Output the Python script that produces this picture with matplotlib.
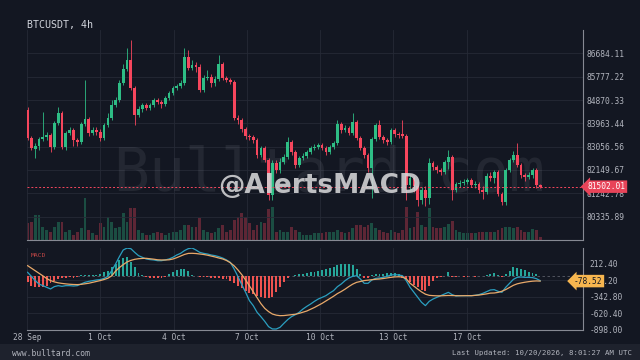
import matplotlib
matplotlib.use("Agg")
import matplotlib.pyplot as plt
from matplotlib.patches import Rectangle
import matplotlib.transforms as mtransforms
import numpy as np

plt.rcParams['font.family'] = ['DejaVu Sans Mono']

title = "BTCUSDT, 4h"
date_labels = ["28 Sep", "1 Oct", "4 Oct", "7 Oct", "10 Oct", "13 Oct", "17 Oct"]
price_tick_labels = ["80335.89", "81242.78", "82149.67", "83056.56",
                     "83963.44", "84870.33", "85777.22", "86684.11"]
macd_tick_labels = ["212.40", "-65.20", "-342.80", "-620.40", "-898.00"]
last_price = 81502.01
last_signal = -78.52

open_ = [84481, 83393, 82966, 83082, 83354, 83432, 83510, 83043, 83976, 84365,
         83043, 83587, 83704, 83315, 83238, 83937, 84132, 83587, 83704, 83626,
         83393, 83898, 84171, 84676, 84870, 85531, 86075, 86425, 85337, 84287,
         84520, 84676, 84559, 84676, 84870, 84792, 84715, 84948, 85142, 85337,
         85414, 85531, 86541, 86114, 86231, 86153, 85259, 85725, 85764, 85531,
         85686, 86269, 85725, 85647, 85570, 84171, 84093, 83743, 83471, 83432,
         83315, 82732, 83004, 82538, 81178, 82421, 82149, 82460, 82655, 83238,
         82849, 82344, 82616, 82694, 82849, 83004, 83043, 83121, 83004, 82849,
         83043, 83199, 83937, 83704, 83782, 83587, 84015, 83393, 83004, 82732,
         82227, 83354, 83898, 83432, 83315, 83238, 83704, 83549, 83549, 83471,
         81566, 81838, 81527, 80983, 81372, 81061, 82421, 82266, 82149, 82072,
         82460, 82655, 81372, 81605, 81644, 81683, 81761, 81566, 81605, 81372,
         81294, 81916, 81838, 82072, 81217, 80906, 82149, 82538, 82732, 82344,
         81955, 81877, 81955, 82149, 81566]
close = [83393, 83004, 83082, 83354, 83432, 83510, 83043, 83976, 84365, 83043,
         83587, 83704, 83315, 83238, 83937, 84132, 83587, 83704, 83626, 83393,
         83898, 84171, 84676, 84870, 85531, 86075, 86425, 85337, 84287, 84520,
         84676, 84559, 84676, 84870, 84792, 84715, 84948, 85142, 85337, 85414,
         85531, 86541, 86114, 86231, 86153, 85259, 85725, 85764, 85531, 85686,
         86269, 85725, 85647, 85570, 84171, 84093, 83743, 83471, 83432, 83315,
         82732, 83004, 82538, 81178, 82421, 82149, 82460, 82655, 83238, 82849,
         82344, 82616, 82694, 82849, 83004, 83043, 83121, 83004, 82849, 83043,
         83199, 83937, 83704, 83782, 83587, 84015, 83393, 83004, 82732, 82227,
         83354, 83898, 83432, 83315, 83238, 83704, 83549, 83510, 83471, 81566,
         81838, 81527, 80983, 81372, 81061, 82421, 82266, 82149, 82072, 82460,
         82655, 81372, 81605, 81644, 81683, 81761, 81566, 81605, 81372, 81294,
         81916, 81838, 82072, 81217, 80906, 82149, 82538, 82732, 82344, 81955,
         81877, 81955, 82149, 81566, 81502.01]
high = [84598, 83471, 83199, 83432, 84404, 83626, 83587, 84054, 84598, 84443,
        83665, 83821, 83782, 83393, 84015, 85647, 84209, 83821, 83821, 83743,
        83976, 84365, 84870, 84987, 85647, 86269, 86891, 87202, 85414, 84637,
        84754, 84754, 84754, 84948, 84948, 84870, 85026, 85220, 85414, 85492,
        85647, 86891, 86814, 86425, 86347, 86269, 85842, 86036, 85881, 85803,
        86619, 86347, 85803, 85725, 85647, 84287, 84171, 83821, 83549, 83510,
        83393, 83082, 83082, 82616, 82538, 82538, 82616, 82771, 83432, 83315,
        82927, 82694, 82810, 82927, 83082, 83160, 83199, 83199, 83082, 83121,
        83277, 84093, 84015, 83898, 83860, 84365, 84093, 83471, 83082, 82810,
        83432, 83976, 84093, 83510, 83393, 83782, 83782, 83626, 84093, 83549,
        81955, 81916, 81605, 81489, 81527, 82616, 82499, 82344, 82227, 82538,
        82927, 82732, 81683, 81761, 81800, 81838, 81838, 81722, 81683, 81527,
        82033, 82072, 82149, 82149, 81294, 82227, 82616, 82888, 83199, 82421,
        82033, 82072, 82227, 82227, 81605]
low = [83315, 82927, 82616, 82927, 83277, 83315, 82849, 82966, 83898, 82966,
       82927, 83510, 83082, 83082, 83160, 83860, 83471, 83510, 83510, 83277,
       83315, 83821, 84093, 84598, 84792, 85453, 85997, 85259, 83898, 84209,
       84404, 84481, 84481, 84598, 84715, 84559, 84637, 84870, 85064, 85259,
       85337, 85453, 86036, 86036, 85958, 85181, 85181, 85647, 85375, 85414,
       85609, 85647, 85570, 85492, 84093, 83937, 83626, 83354, 83315, 83199,
       82616, 82655, 82460, 80983, 80983, 82033, 82033, 82383, 82577, 82732,
       82227, 82266, 82538, 82616, 82771, 82927, 82966, 82927, 82732, 82771,
       82966, 83121, 83587, 83626, 83510, 83510, 83315, 82927, 82616, 82072,
       81061, 83277, 83354, 83199, 83121, 83160, 83432, 83393, 83393, 80983,
       81372, 81294, 80750, 80828, 80750, 80828, 82149, 82033, 81955, 81994,
       82188, 80983, 81294, 81489, 81566, 81605, 81489, 81450, 81255, 81022,
       81217, 81722, 81644, 81139, 80789, 80789, 82072, 82460, 82266, 81838,
       81722, 81800, 81838, 81450, 81450]
volume = [850, 900, 1250, 1250, 650, 500, 400, 650, 900, 900,
          400, 500, 250, 400, 600, 2100, 500, 350, 250, 850,
          650, 1150, 900, 600, 650, 1350, 900, 1600, 1600, 500,
          350, 250, 250, 350, 400, 350, 250, 350, 400, 400,
          500, 750, 750, 650, 650, 1100, 500, 400, 350, 400,
          600, 750, 400, 500, 1000, 1150, 1350, 1150, 850, 500,
          750, 900, 850, 1550, 1650, 400, 500, 400, 400, 650,
          500, 400, 250, 250, 250, 350, 350, 350, 400, 400,
          400, 500, 400, 350, 400, 600, 750, 750, 650, 750,
          850, 600, 500, 400, 350, 500, 400, 350, 500, 1650,
          600, 650, 1400, 750, 650, 1600, 650, 600, 600, 650,
          800, 950, 500, 400, 350, 350, 350, 350, 400, 400,
          400, 400, 400, 500, 600, 650, 650, 600, 650, 500,
          400, 400, 550, 500, 150]
macd = [70, 2, -71, -128, -156, -184, -212, -172, -156, -167,
        -156, -156, -162, -156, -128, -99, -83, -71, -60, -54,
        -32, 2, 98, 211, 335, 448, 480, 470, 408, 352,
        324, 296, 285, 279, 267, 267, 279, 296, 324, 363,
        391, 437, 470, 482, 448, 408, 391, 380, 363, 352,
        335, 312, 279, 239, 126, -3, -139, -269, -410, -494,
        -607, -681, -760, -850, -889, -890, -861, -794, -731, -681,
        -647, -607, -551, -506, -466, -421, -382, -353, -325, -280,
        -240, -173, -128, -71, -26, 2, 13, -43, -116, -116,
        -60, -32, -26, -15, 2, 25, 30, 25, 13, -71,
        -184, -269, -353, -438, -494, -421, -382, -353, -325, -297,
        -269, -308, -331, -325, -325, -325, -325, -319, -308, -286,
        -257, -229, -224, -252, -269, -184, -116, -49, -15, -9,
        -15, -15, -20, -37, -71]
signal = [183, 140, 95, 55, 10, -35, -70, -92, -108, -118,
          -126, -132, -136, -138, -134, -125, -115, -100, -85, -70,
          -52, -30, 10, 90, 150, 200, 245, 272, 290, 300,
          305, 307, 300, 292, 282, 279, 279, 282, 295, 318,
          345, 372, 390, 392, 388, 380, 372, 360, 345, 330,
          312, 296, 270, 232, 180, 110, 30, -60, -160, -260,
          -360, -460, -540, -595, -636, -655, -664, -662, -655, -648,
          -640, -625, -605, -585, -555, -525, -490, -455, -415, -375,
          -335, -290, -255, -215, -170, -130, -100, -85, -70, -62,
          -55, -48, -43, -35, -25, -15, -8, -5, -10, -40,
          -115, -165, -215, -262, -300, -320, -325, -328, -328, -325,
          -322, -323, -325, -327, -326, -325, -326, -320, -315, -305,
          -295, -282, -280, -270, -250, -222, -185, -150, -125, -110,
          -98, -88, -80, -76, -78.52]
hist = [-99, -156, -184, -184, -172, -156, -116, -83, -40, -20,
        -20, -15, -18, -15, 20, 25, 25, 20, 25, 35,
        70, 100, 155, 211, 270, 310, 324, 239, 155, 53,
        20, -15, -20, -20, -25, -20, -15, 40, 70, 115,
        124, 124, 98, 30, 10, -10, -15, -15, -20, -25,
        -30, -35, -50, -71, -115, -156, -200, -240, -280, -300,
        -330, -350, -370, -370, -345, -270, -184, -100, -30, 10,
        25, 35, 42, 55, 70, 80, 95, 110, 125, 140,
        155, 190, 211, 211, 211, 200, 126, 42, -30, -30,
        20, 40, 45, 45, 50, 55, 55, 45, -20, -50,
        -90, -140, -180, -225, -240, -160, -80, -30, -15, 5,
        70, -8, -6, 5, -5, -5, 4, -4, 5, 10,
        30, 45, 53, 20, -10, 40, 100, 166, 150, 130,
        110, 80, 60, 40, 15]

BG = '#131722'
UP = '#2ebd85'
DN = '#f6465d'
GRID = '#252a36'
TXT = '#b2b5be'
SPINE = '#868993'

W, H = 640, 360


def frame(x0, y0, x1, y1):
    return [x0 / W, 1 - y1 / H, (x1 - x0) / W, (y1 - y0) / H]


fig = plt.figure(figsize=(6.4, 3.6), dpi=100, facecolor=BG)
ax = fig.add_axes(frame(27, 30, 583, 240))
axm = fig.add_axes(frame(27, 247.5, 583, 329.5), sharex=ax)
axv = ax.twinx()

n = np.arange(len(close))
o = np.array(open_, float)
c = np.array(close, float)
hi = np.array(high, float)
lo = np.array(low, float)
up = c >= o
cols = np.where(up, UP, DN)

# volume (behind candles)
axv.set_zorder(ax.get_zorder() - 1)
ax.patch.set_visible(False)
axv.patch.set_visible(False)
axv.bar(n, volume, width=0.72, color=cols, alpha=0.33, linewidth=0)
axv.set_ylim(0, 10500)
axv.axis('off')

# candles
ax.vlines(n, lo, hi, colors=cols, linewidth=0.6, zorder=3)
body_bottom = np.minimum(o, c)
body_h = np.maximum(np.abs(c - o), 25)
ax.bar(n, body_h, bottom=body_bottom, width=0.72, color=cols, linewidth=0, zorder=4)

ax.set_xlim(-0.15, 145.2)
ax.set_ylim(79429.0, 87591.0)
tick_pos = np.arange(len(date_labels)) * 19.16 - 0.15
ax.set_xticks(tick_pos)
ax.tick_params(axis='x', labelbottom=False, length=0)
ax.yaxis.tick_right()
ax.set_yticks([float(t) for t in price_tick_labels], price_tick_labels)
ax.tick_params(axis='y', length=0, pad=2.8, labelsize=5.7, colors=TXT)
ax.grid(True, color=GRID, linewidth=0.6)
ax.set_axisbelow(True)
for s in ['top', 'left']:
    ax.spines[s].set_visible(False)
ax.spines['right'].set_color(SPINE)
ax.spines['bottom'].set_color(SPINE)
ax.spines['right'].set_linewidth(0.8)
ax.spines['bottom'].set_linewidth(0.8)

# last price line + label
ax.axhline(last_price, color=DN, linewidth=0.7, linestyle=(0, (2, 2)), zorder=5)
ax.annotate(f"{last_price:.2f}", xy=(1.0, last_price), xycoords=('axes fraction', 'data'),
            xytext=(3.2, 0), textcoords='offset points', ha='left', va='center',
            fontsize=5.7, color='white', annotation_clip=False, zorder=20,
            bbox=dict(boxstyle='larrow,pad=0.22', fc='#e84459', ec='none'))

# watermarks
ax.text(113 / W, 1 - 190 / H, "Bulltard.com", transform=fig.transFigure, fontsize=43,
        color='#9598a1', alpha=0.13, ha='left', va='baseline', zorder=1)
fig.text(218 / W, 1 - 193.5 / H, "@AlertsMACD", fontsize=19, fontweight='bold',
         family='DejaVu Sans', color='#d6d6d8', alpha=0.88, ha='left', va='baseline', zorder=30)

# MACD panel
hcols = np.where(np.array(hist) >= 0, '#26a69a', '#ef5350')
axm.bar(n, hist, width=0.5, color=hcols, linewidth=0, zorder=3)
axm.plot(n, macd, color='#2b9fc0', linewidth=0.9, zorder=4)
axm.plot(n, signal, color='#e9a96a', linewidth=0.9, zorder=5)
axm.axhline(0, color='#787b86', linewidth=0.6, linestyle=(0, (3, 3)), alpha=0.7, zorder=2)
axm.set_ylim(-898, 490)
axm.yaxis.tick_right()
axm.set_yticks([float(t) for t in macd_tick_labels], macd_tick_labels)
axm.tick_params(axis='y', length=0, pad=4.5, labelsize=5.7, colors=TXT)
axm.set_xticks(tick_pos, date_labels)
axm.tick_params(axis='x', length=0, pad=2.5, labelsize=5.7, colors=TXT)
axm.grid(True, color=GRID, linewidth=0.6)
axm.set_axisbelow(True)
axm.patch.set_visible(False)
for s in ['top', 'left']:
    axm.spines[s].set_visible(False)
axm.spines['right'].set_color(SPINE)
axm.spines['bottom'].set_color(SPINE)
axm.spines['right'].set_linewidth(0.8)
axm.spines['bottom'].set_linewidth(0.8)
axm.text(0.006, 0.9, "MACD", transform=axm.transAxes, fontsize=4.6, color='#ef5350',
         alpha=0.8, ha='left', va='center')
axm.annotate(f"{last_signal:.2f}", xy=(1.0, last_signal), xycoords=('axes fraction', 'data'),
             xytext=(14.0, 0), textcoords='offset points', ha='right', va='center',
             fontsize=5.7, color='#131722', annotation_clip=False, zorder=20,
             bbox=dict(boxstyle='larrow,pad=0.22', fc='#f7b64f', ec='none'))

# title and footer
fig.text(27 / W, 1 - 28 / H, title, fontsize=7.2, color='#d1d4dc', ha='left', va='baseline')
fig.patches.append(Rectangle((0, 0), 1, 16 / H, transform=fig.transFigure,
                             facecolor='#1e222d', edgecolor='none', zorder=0))
fig.text(12 / W, 1 - 353 / H, "www.bulltard.com", fontsize=5.8, color=TXT, ha='left', va='center')
fig.text(632 / W, 1 - 353 / H, "Last Updated: 10/20/2026, 8:01:27 AM UTC", fontsize=5.3,
         color=TXT, ha='right', va='center')

fig.savefig("out.png", dpi=100, facecolor=BG)
